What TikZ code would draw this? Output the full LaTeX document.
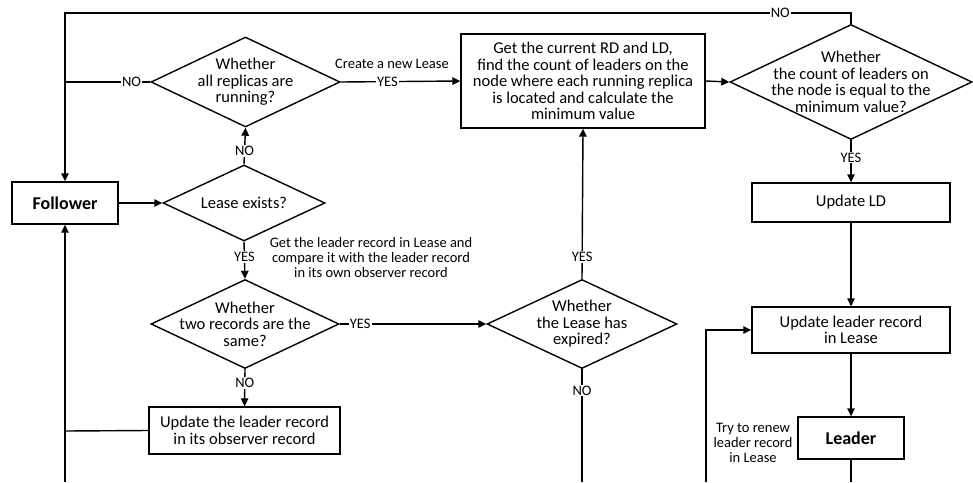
\documentclass[tikz,border=0pt]{standalone}
\usepackage{fontspec}
\setmainfont{Carlito}
\usetikzlibrary{shapes.geometric,arrows.meta}
\begin{document}
\begin{tikzpicture}[x=1pt,y=-1pt,line width=1.4pt,
  box/.style={draw,rectangle,inner sep=0pt,line width=1.4pt},
  dia/.style={draw,diamond,inner sep=0pt,line width=1.4pt},
  txt/.style={font=\fontsize{16.5}{16.5}\selectfont,align=center,inner sep=0pt},
  small/.style={font=\fontsize{14.5}{15}\selectfont,align=center,inner sep=0pt},
  lab/.style={font=\fontsize{14.5}{14.5}\selectfont,fill=white,inner sep=1pt},
  arr/.style={-{Triangle[length=8pt,width=7.5pt]}},
  bold/.style={font=\fontsize{18}{18}\selectfont\bfseries,inner sep=0pt}]
\useasboundingbox (0,0) rectangle (973,482);

% nodes
\node[box,minimum width=106pt,minimum height=42pt] (fol) at (65,203) {};
\node[bold] (folt) at (fol) {Follower};

\node[dia,minimum width=189pt,minimum height=90pt] (d1) at (245.5,82) {};
\node[txt] (d1t) at (d1) {Whether\\ all replicas are\\ running?};

\node[box,minimum width=244pt,minimum height=94pt] (b1) at (583,81) {};
\node[txt] (b1t) at (b1) {Get the current RD and LD,\\ find the count of leaders on the\\ node where each running replica\\ is located and calculate the\\ minimum value};

\node[dia,minimum width=242pt,minimum height=115pt] (d2) at (851,82) {};
\node[txt] (d2t) at (851,82) {Whether\\ the count of leaders on\\ the node is equal to the\\ minimum value?};

\node[dia,minimum width=162pt,minimum height=76pt] (d4) at (244,203) {};
\node[txt] (d4t) at (d4) {Lease exists?};

\node[dia,minimum width=188pt,minimum height=89pt] (d5) at (245,324) {};
\node[txt] (d5t) at (d5) {Whether\\ two records are the\\ same?};

\node[dia,minimum width=190pt,minimum height=89pt] (d3) at (582,324) {};
\node[txt] (d3t) at (d3) {Whether\\ the Lease has\\ expired?};

\node[box,minimum width=191pt,minimum height=47pt] (upd) at (244.5,430.5) {};
\node[txt] (updt) at (upd) {Update the leader record\\ in its observer record};

\node[box,minimum width=198pt,minimum height=39pt] (uld) at (851,202.5) {};
\node[txt] (uldt) at (uld) {Update LD};

\node[box,minimum width=198pt,minimum height=46pt] (ulr) at (851,330) {};
\node[txt] (ulrt) at (ulr) {Update leader record\\ in Lease};

\node[box,minimum width=106pt,minimum height=42pt] (lea) at (851,438) {};
\node[bold] (leat) at (lea) {Leader};

\node[small] (note1) at (371,257.5) {Get the leader record in Lease and\\ compare it with the leader record\\ in its own observer record};
\node[small] (note2) at (753,443) {Try to renew\\ leader record\\ in Lease};
\node[small] (note3) at (392,64) {Create a new Lease};

% coordinates
\coordinate (tr) at (851,13);
\coordinate (tl) at (65,13);
\coordinate (j1) at (65,82);
\coordinate (j2) at (65,431);
\coordinate (bl) at (65,482);
\coordinate (b3) at (582,482);
\coordinate (bL) at (851,482);
\coordinate (bR) at (706,482);
\coordinate (kR) at (706,330);

% connectors
\draw[arr] (d2.north) -- (tr) -- node[lab,pos=0.09]{NO} (tl) -- (fol.north);
\draw (d1.west) -- node[lab,pos=0.22]{NO} (j1);
\draw[arr] (d1.east) -- node[lab,pos=0.39]{YES} (b1.west);
\draw[arr] (b1.east) -- (d2.west);
\draw[arr] (d4.north) -- node[lab,pos=0.37]{NO} (d1.south);
\draw[arr] (fol.east) -- (d4.west);
\draw[arr] (d4.south) -- node[lab,pos=0.41]{YES} (d5.north);
\draw[arr] (d5.east) -- node[lab,pos=0.14]{YES} (d3.west);
\draw[arr] (d5.south) -- node[lab,pos=0.37]{NO} (upd.north);
\draw (upd.west) -- (j2);
\draw[arr] (bl) -- (fol.south);
\draw[arr] (d3.north) -- node[lab,pos=0.145]{YES} (b1.south);
\draw (d3.south) -- node[lab,pos=0.19]{NO} (b3);
\draw[arr] (d2.south) -- node[lab,pos=0.41]{YES} (uld.north);
\draw[arr] (uld.south) -- (ulr.north);
\draw[arr] (ulr.south) -- (lea.north);
\draw (lea.south) -- (bL);
\draw[arr] (bR) -- (kR) -- (ulr.west);
\end{tikzpicture}
\end{document}
